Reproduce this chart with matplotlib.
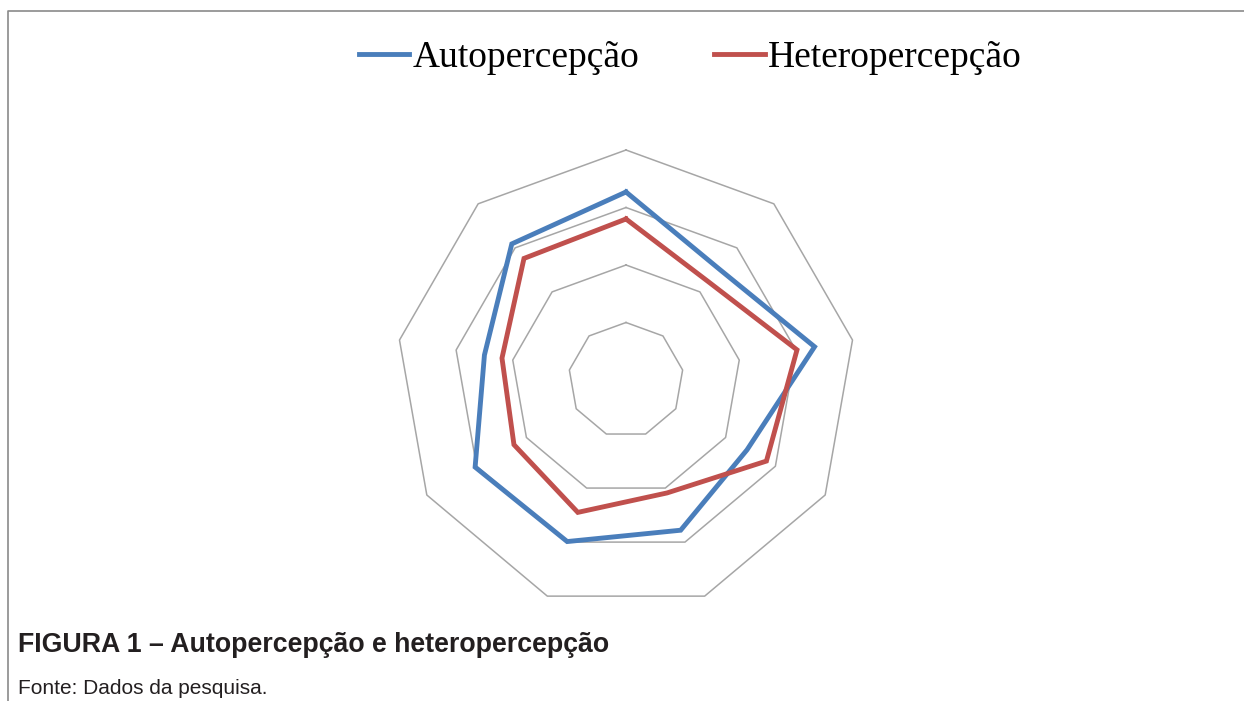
import matplotlib

matplotlib.use('Agg')
import matplotlib.pyplot as plt
from matplotlib.lines import Line2D
import numpy as np

# nine dimensions, values (scale 0-4, rings at 1..4)
auto = [3.27, 2.52, 3.33, 2.43, 2.78, 2.99, 3.03, 2.50, 3.09]
hetero = [2.80, 2.23, 3.02, 2.82, 2.09, 2.45, 2.25, 2.19, 2.76]
rings = [1, 2, 3, 4]
labels = ['Autopercepção', 'Heteropercepção']

azul = '#4a7ebb'
vermelho = '#c0504d'
cinza = '#a6a6a6'

W, H = 1244, 701
fig = plt.figure(figsize=(W / 100, H / 100), dpi=100)

# chart area: centre at (626, 380) px, 1 unit = 57.5 px
cx, cy, half = 626, 380, 250
ax = fig.add_axes([(cx - half) / W, (H - cy - half) / H, 2 * half / W, 2 * half / H])
lim = half / 57.5
ax.set_xlim(-lim, lim)
ax.set_ylim(-lim, lim)
ax.set_aspect('equal')
ax.axis('off')

n = len(auto)
ang = np.arange(n + 1) * 2 * np.pi / n


def xy(vals):
    v = np.append(vals, vals[0])
    return v * np.sin(ang), v * np.cos(ang)


for r in rings:
    gx, gy = xy([r] * n)
    ax.plot(gx, gy, color=cinza, lw=1.1)

x, y = xy(auto)
ax.plot(x, y, color=azul, lw=3.5, solid_joinstyle='miter')
x, y = xy(hetero)
ax.plot(x, y, color=vermelho, lw=3.5, solid_joinstyle='miter')

handles = [Line2D([], [], color=azul, lw=3.5),
           Line2D([], [], color=vermelho, lw=3.5)]
fig.legend(handles, labels, loc='center', bbox_to_anchor=(690 / W, 1 - 58 / H),
           ncol=2, frameon=False, prop={'family': 'Liberation Serif', 'size': 27},
           handlelength=1.35, handletextpad=0.08, columnspacing=2.0)

# frame (top and left edges only visible)
fig.add_artist(Line2D([8 / W, 8 / W, 1], [0, 1 - 11 / H, 1 - 11 / H],
                      transform=fig.transFigure, color='#8a8a8a', lw=1.2))

fig.text(18 / W, 1 - 645 / H, 'FIGURA 1 – Autopercepção e heteropercepção',
         family='Liberation Sans', weight='bold', fontsize=19.3, va='center', color='#231f20')
fig.text(18 / W, 1 - 688 / H, 'Fonte: Dados da pesquisa.',
         family='Liberation Sans', fontsize=15, va='center', color='#231f20')

fig.savefig('out.png', dpi=100)
